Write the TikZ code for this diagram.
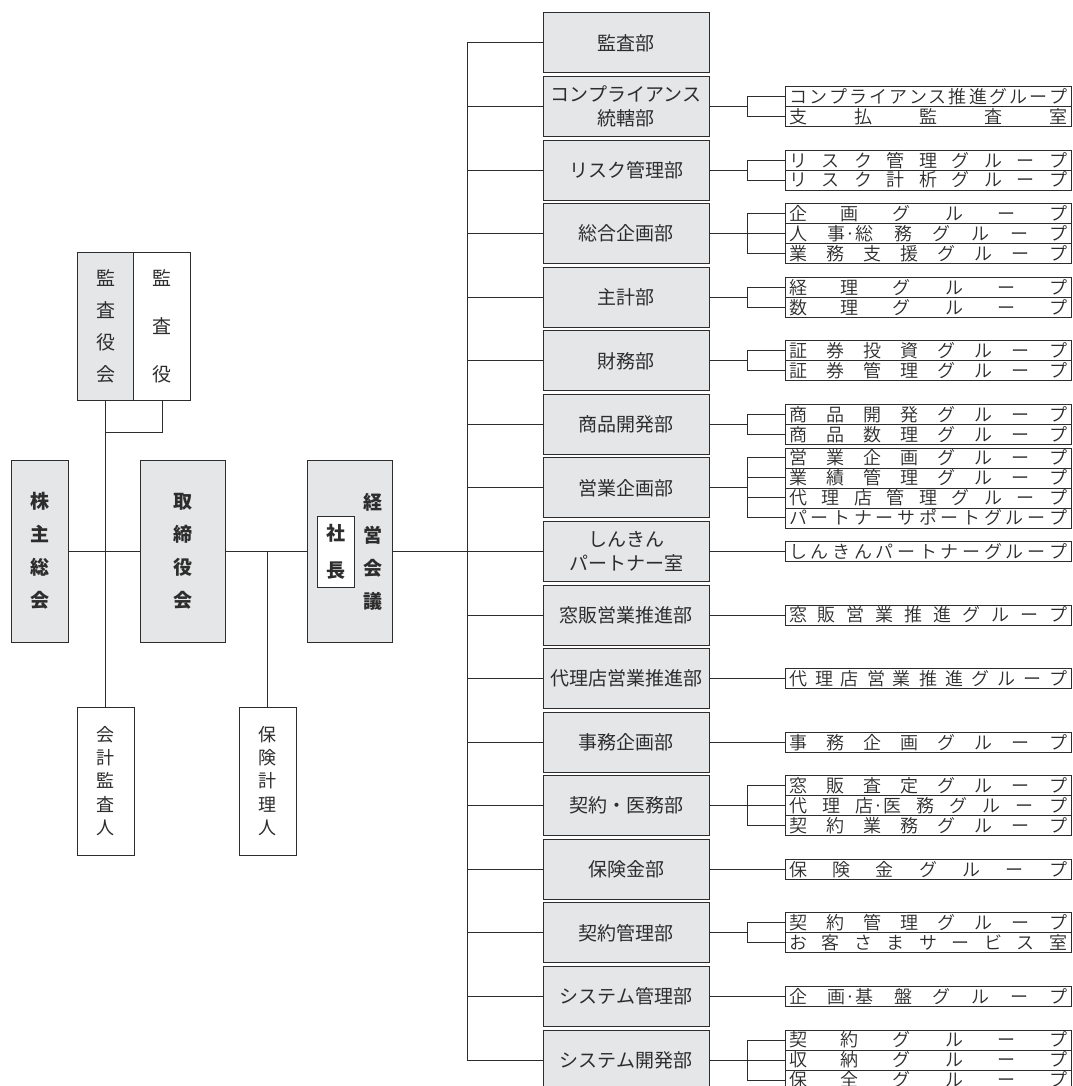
\documentclass[tikz,border=0pt]{standalone}
\usepackage{fontspec}
\setmainfont{Noto Sans CJK JP}
\IfFontExistsTF{Noto Sans CJK JP DemiLight}{\newfontfamily\jplight{Noto Sans CJK JP DemiLight}}{\newfontfamily\jplight{Noto Sans CJK JP}}
\definecolor{boxgray}{RGB}{229,230,232}
\definecolor{ink}{RGB}{45,45,45}
\def\spreadit#1{\hbox to 278pt{\spreadA#1\relax}}
\def\spreadA#1{\ifx#1\relax\else#1\expandafter\spreadB\fi}
\def\spreadB#1{\ifx#1\relax\else\hfill#1\expandafter\spreadB\fi}
\newcommand\cJS{事·総}
\newcommand\cTI{店·医}
\newcommand\cGK{画·基}
\newcommand\G[5]{\node[grp] (#1) at (928,{43+63.5625*(#2-1)+(#3-(#4+1)/2)*20}) {\spreadit{#5}};}
\newcommand\Bk[3]{\draw[conn] (#1.east) -- (#1.east -| bx); \draw[conn] (#2.west -| bx) -- (#3.west -| bx);}
\newcommand\St[1]{\draw[conn] (#1.west) -- (#1.west -| bx);}
\begin{document}
\begin{tikzpicture}[x=1pt,y=-1pt,
  dept/.style={draw=ink, line width=1pt, fill=boxgray, minimum width=166pt, minimum height=60pt, inner sep=0pt, align=center, font=\fontsize{19}{24}\selectfont, text=ink},
  grp/.style={draw=ink, line width=0.8pt, fill=white, minimum width=286pt, minimum height=20pt, inner xsep=4pt, inner ysep=0pt, font=\jplight\fontsize{18}{18}\selectfont, text=ink},
  vbox/.style={draw=ink, line width=1pt, inner sep=0pt, align=center, text=ink},
  conn/.style={draw=ink, line width=1pt}]
\useasboundingbox (0,0) rectangle (1072,1086);
% left part
\node[vbox, fill=boxgray, minimum width=57pt, minimum height=148pt, font=\fontsize{19}{32}\selectfont] (kyk) at (105.5,326) {監\\査\\役\\会};
\node[vbox, fill=white, minimum width=57pt, minimum height=148pt, font=\fontsize{19}{48}\selectfont] (ksy) at (162,326) {監\\査\\役};
\node[vbox, fill=boxgray, minimum width=57pt, minimum height=182pt, font=\bfseries\fontsize{19}{33}\selectfont] (kabu) at (39.5,551) {株\\主\\総\\会};
\node[vbox, fill=boxgray, minimum width=85pt, minimum height=182pt, font=\bfseries\fontsize{19}{33}\selectfont] (tori) at (182.5,551) {取\\締\\役\\会};
\node[vbox, fill=boxgray, minimum width=85pt, minimum height=182pt] (keiei) at (349.5,551) {};
\node[text=ink, inner sep=0pt, align=center, font=\bfseries\fontsize{19}{33}\selectfont] (keieit) at (373,551.5) {経\\営\\会\\議};
\node[vbox, fill=white, minimum width=37pt, minimum height=71pt, font=\bfseries\fontsize{19}{37}\selectfont] (shacho) at (335.5,551.5) {社\\長};
\node[vbox, fill=white, minimum width=57pt, minimum height=148pt, font=\fontsize{18}{23.3}\selectfont] (kaikei) at (105.5,781) {会\\計\\監\\査\\人};
\node[vbox, fill=white, minimum width=57pt, minimum height=148pt, font=\fontsize{18}{23.3}\selectfont] (hoken) at (267.5,781) {保\\険\\計\\理\\人};
\coordinate (kj) at (105.5,432);
\coordinate (tx) at (467,0);
\coordinate (bx) at (747,0);
\draw[conn] (kyk.south) -- (kaikei.north);
\draw[conn] (ksy.south) |- (kj);
\draw[conn] (kabu.east) -- (tori.west);
\draw[conn] (tori.east) -- (keiei.west);
\draw[conn] (hoken.north) -- (hoken.north |- tori.east);
\draw[conn] (keiei.east) -- (keiei.east -| tx);
% departments
\foreach \i/\t in {1/監査部,2/{コンプライアンス\\統轄部},3/リスク管理部,4/総合企画部,5/主計部,6/財務部,7/商品開発部,8/営業企画部,9/{しんきん\\パートナー室},10/窓販営業推進部,11/代理店営業推進部,12/事務企画部,13/契約・医務部,14/保険金部,15/契約管理部,16/システム管理部,17/システム開発部}
  \node[dept] (d\i) at (626,{43+63.5625*(\i-1)}) {\t};
\draw[conn] (d1.west -| tx) -- (d17.west -| tx);
\foreach \i in {1,...,17} \draw[conn] (d\i.west) -- (d\i.west -| tx);
% groups
\G{g2a}{2}{1}{2}{コンプライアンス推進グループ}
\G{g2b}{2}{2}{2}{支払監査室}
\G{g3a}{3}{1}{2}{リスク管理グループ}
\G{g3b}{3}{2}{2}{リスク計析グループ}
\G{g4a}{4}{1}{3}{企画グループ}
\G{g4b}{4}{2}{3}{人\cJS 務グループ}
\G{g4c}{4}{3}{3}{業務支援グループ}
\G{g5a}{5}{1}{2}{経理グループ}
\G{g5b}{5}{2}{2}{数理グループ}
\G{g6a}{6}{1}{2}{証券投資グループ}
\G{g6b}{6}{2}{2}{証券管理グループ}
\G{g7a}{7}{1}{2}{商品開発グループ}
\G{g7b}{7}{2}{2}{商品数理グループ}
\G{g8a}{8}{1}{4}{営業企画グループ}
\G{g8b}{8}{2}{4}{業績管理グループ}
\G{g8c}{8}{3}{4}{代理店管理グループ}
\G{g8d}{8}{4}{4}{パートナーサポートグループ}
\G{g9a}{9}{1}{1}{しんきんパートナーグループ}
\G{g10a}{10}{1}{1}{窓販営業推進グループ}
\G{g11a}{11}{1}{1}{代理店営業推進グループ}
\G{g12a}{12}{1}{1}{事務企画グループ}
\G{g13a}{13}{1}{3}{窓販査定グループ}
\G{g13b}{13}{2}{3}{代理\cTI 務グループ}
\G{g13c}{13}{3}{3}{契約業務グループ}
\G{g14a}{14}{1}{1}{保険金グループ}
\G{g15a}{15}{1}{2}{契約管理グループ}
\G{g15b}{15}{2}{2}{お客さまサービス室}
\G{g16a}{16}{1}{1}{企\cGK 盤グループ}
\G{g17a}{17}{1}{3}{契約グループ}
\G{g17b}{17}{2}{3}{収納グループ}
\G{g17c}{17}{3}{3}{保全グループ}
% brackets
\Bk{d2}{g2a}{g2b}\St{g2a}\St{g2b}
\Bk{d3}{g3a}{g3b}\St{g3a}\St{g3b}
\Bk{d4}{g4a}{g4c}\St{g4a}\St{g4b}\St{g4c}
\Bk{d5}{g5a}{g5b}\St{g5a}\St{g5b}
\Bk{d6}{g6a}{g6b}\St{g6a}\St{g6b}
\Bk{d7}{g7a}{g7b}\St{g7a}\St{g7b}
\Bk{d8}{g8a}{g8d}\St{g8a}\St{g8b}\St{g8c}\St{g8d}
\draw[conn] (d9.east) -- (g9a.west);
\draw[conn] (d10.east) -- (g10a.west);
\draw[conn] (d11.east) -- (g11a.west);
\draw[conn] (d12.east) -- (g12a.west);
\Bk{d13}{g13a}{g13c}\St{g13a}\St{g13b}\St{g13c}
\draw[conn] (d14.east) -- (g14a.west);
\Bk{d15}{g15a}{g15b}\St{g15a}\St{g15b}
\draw[conn] (d16.east) -- (g16a.west);
\Bk{d17}{g17a}{g17c}\St{g17a}\St{g17b}\St{g17c}
\end{tikzpicture}
\end{document}
